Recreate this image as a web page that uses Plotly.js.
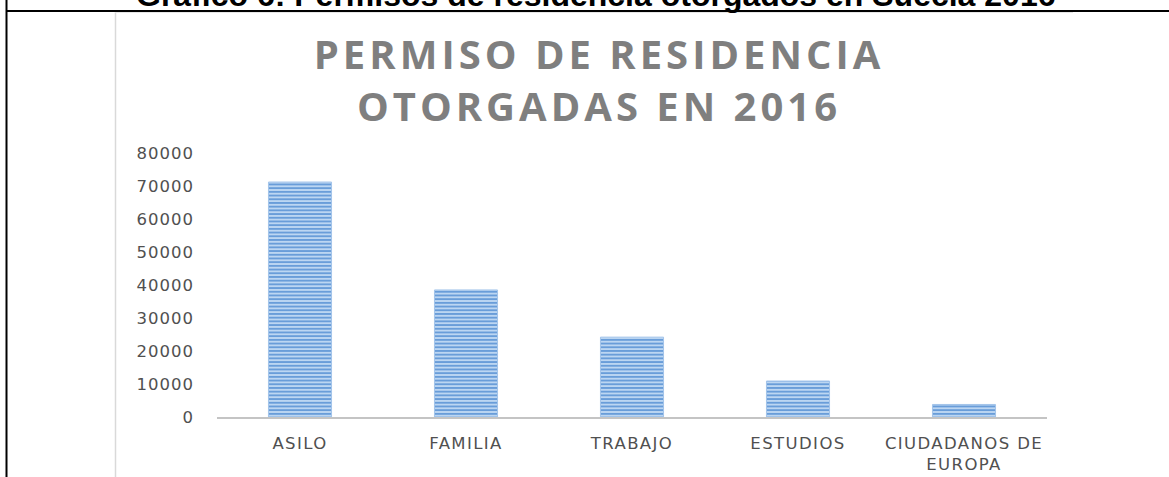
<!DOCTYPE html>
<html>
<head>
<meta charset="utf-8">
<script src="https://cdn.plot.ly/plotly-3.0.1.min.js"></script>
<style>
  html, body { margin: 0; padding: 0; background: #ffffff; }
  #chart { width: 1169px; height: 477px; }
  .xtick text { letter-spacing: 1.4px; }
  .ytick text { letter-spacing: 1px; }
  .gtitle { letter-spacing: 4px; }
</style>
</head>
<body>
<div id="chart"></div>
<script>
// ---- data ----
const categories = ['ASILO', 'FAMILIA', 'TRABAJO', 'ESTUDIOS', 'CIUDADANOS DE EUROPA'];
const categoryLabels = ['ASILO', 'FAMILIA', 'TRABAJO', 'ESTUDIOS', 'CIUDADANOS DE<br>EUROPA'];
const permisos = [71200, 38500, 24200, 10900, 3800];
const yTickValues = [0, 10000, 20000, 30000, 40000, 50000, 60000, 70000, 80000];
const yTickLabels = ['0', '10000', '20000', '30000', '40000', '50000', '60000', '70000', '80000'];
const chartTitle = 'PERMISO DE RESIDENCIA<br>OTORGADAS EN 2016';
const pageHeading = 'Gráfico 6: Permisos de residencia otorgados en Suecia 2016';

// ---- layout helpers (pixel -> paper) ----
const W = 1169, H = 477;
const M = { l: 217, r: 122, t: 153, b: 60 };
const PW = W - M.l - M.r, PH = H - M.t - M.b;
const px = x => (x - M.l) / PW;
const py = y => (H - M.b - y) / PH;

const trace = {
  type: 'bar',
  x: categories,
  y: permisos,
  marker: {
    color: '#c0d8f2',
    pattern: { shape: '-', fgcolor: '#5f97d6', bgcolor: '#bcd6f2', size: 3.7, solidity: 0.45 },
    line: { color: '#a3c4ea', width: 1 }
  },
  hoverinfo: 'x+y'
};

const tickFont = { family: 'DejaVu Sans, sans-serif', size: 16.5, color: '#505050' };

const layout = {
  width: W, height: H,
  margin: M,
  paper_bgcolor: '#ffffff',
  plot_bgcolor: '#ffffff',
  showlegend: false,
  bargap: 0.62,
  title: {
    text: chartTitle,
    font: { family: 'Open Sans, sans-serif', size: 40, weight: 700, color: '#7f7f7f' },
    x: 599 / W, xanchor: 'center', xref: 'container',
    y: 1 - 69 / H, yanchor: 'top', yref: 'container'
  },
  xaxis: {
    type: 'category',
    tickvals: categories,
    ticktext: categoryLabels,
    showline: true, linecolor: '#c4c4c4', linewidth: 2,
    showgrid: false, zeroline: false,
    ticks: '', ticklabelstandoff: 10,
    tickfont: tickFont,
    fixedrange: true
  },
  yaxis: {
    range: [0, 80000],
    tickvals: yTickValues,
    ticktext: yTickLabels,
    showline: false, showgrid: false, zeroline: false,
    ticks: '', ticklabelstandoff: 22,
    tickfont: tickFont,
    fixedrange: true
  },
  shapes: [
    // page frame: left black rule
    { type: 'line', xref: 'paper', yref: 'paper', x0: px(6.5), x1: px(6.5), y0: py(0), y1: py(H), line: { color: '#000000', width: 2 } },
    // page frame: top black rule
    { type: 'line', xref: 'paper', yref: 'paper', x0: px(6), x1: px(W), y0: py(11), y1: py(11), line: { color: '#000000', width: 2 } },
    // embedded chart image border (light grey)
    { type: 'line', xref: 'paper', yref: 'paper', x0: px(115.5), x1: px(115.5), y0: py(12), y1: py(H), line: { color: '#d9d9d9', width: 1.5 } },
    { type: 'line', xref: 'paper', yref: 'paper', x0: px(115), x1: px(1073), y0: py(12.5), y1: py(12.5), line: { color: '#e6e6e6', width: 1 } }
  ],
  annotations: [
    {
      text: '<b>' + pageHeading + '</b>',
      xref: 'paper', yref: 'paper',
      x: px(595), xanchor: 'center',
      y: py(-25), yanchor: 'top',
      showarrow: false,
      font: { family: 'Liberation Sans, Arial, sans-serif', size: 32, color: '#000000' }
    }
  ]
};

Plotly.newPlot('chart', [trace], layout, { displayModeBar: false, staticPlot: true });
</script>
</body>
</html>
